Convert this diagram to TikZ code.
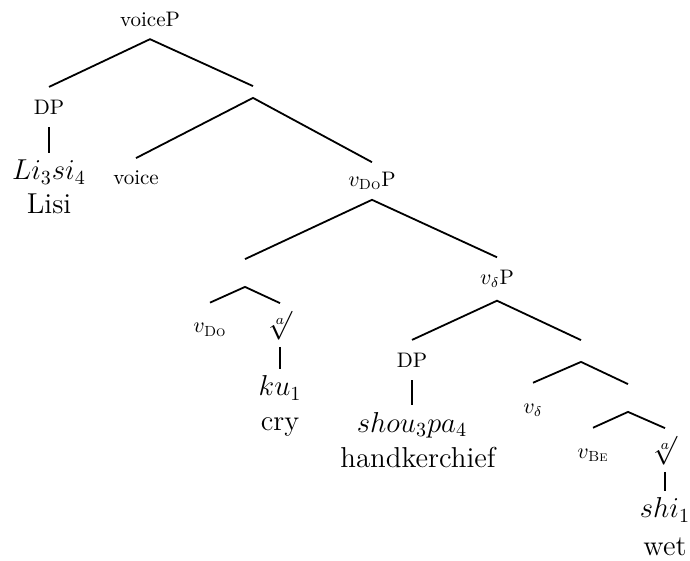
\documentclass[tikz,border=0pt]{standalone}
\usepackage{amsmath}
\usepackage{amssymb}

\begin{document}
\begin{tikzpicture}[x=0.5pt,y=-0.5pt,line width=0.9pt,node distance=16pt,
    cat/.style={font=\fontsize{10.5}{12}\selectfont,inner xsep=1pt,inner ysep=6pt},
    low/.style={cat,inner ysep=10pt},
    root/.style={font=\Large,inner xsep=1pt,inner ysep=3pt},
    word/.style={font=\Large,inner xsep=1pt,inner ysep=3pt},
    blank/.style={inner sep=0pt,minimum width=0pt,minimum height=#1}]
        \useasboundingbox (0,0) rectangle (690,561);

        \node[cat] (voiceP) at (150,19) {voiceP};
        \node[cat] (DPa) at (49,107) {DP};
        \node[word] (Li) at (49,172) {$Li_3si_4$};
        \node[word,below of=Li] (Lisi) {Lisi};

        \node[blank=5pt] (A) at (253,92) {};
        \node[cat] (voice) at (136,178) {voice};
        \node[cat,inner ysep=4.5pt] (vDoP) at (372,181) {$v_{\textsc{Do}}$P};

        \node[blank=13pt] (B) at (245,273) {};
        \node[low] (vDo) at (210,330) {$v_{\textsc{Do}}$};
        \node[root] (rta) at (280,325) {$\sqrt[a]{}$};
        \node[word] (ku) at (280,388) {$ku_1$};
        \node[word,below of=ku,node distance=19.5pt] (cry) {cry};

        \node[cat] (vdP) at (497,279) {$v_\delta$P};
        \node[cat] (DPb) at (412,360) {DP};
        \node[word] (shou) at (412,425) {$shou_3pa_4$};
        \node[word,below of=shou,node distance=16.5pt,xshift=3pt] (hk) {handkerchief};

        \node[blank=10pt] (C) at (581,351) {};
        \node[low] (vd) at (533,410) {$v_\delta$};
        \node[blank=13pt] (D) at (628,398) {};
        \node[low] (vBe) at (593,455) {$v_{\textsc{Be}}$};
        \node[root] (rtb) at (665,450) {$\sqrt[a]{}$};
        \node[word] (shi) at (665,510) {$shi_1$};
        \node[word,below of=shi,node distance=18.5pt] (wet) {wet};

        % branches
        \draw (DPa.north) -- (voiceP.south) -- (A.north);
        \draw (voice.north) -- (A.south) -- (vDoP.north);
        \draw (B.north) -- (vDoP.south) -- (vdP.north);
        \draw (vDo.north) -- (B.south) -- (rta.north);
        \draw (DPb.north) -- (vdP.south) -- (C.north);
        \draw (vd.north) -- (C.south) -- (D.north);
        \draw (vBe.north) -- (D.south) -- (rtb.north);

        % non-branching
        \draw (DPa.south) -- (DPa.south |- Li.north);
        \draw (rta.south) -- (rta.south |- ku.north);
        \draw (DPb.south) -- (DPb.south |- shou.north);
        \draw (rtb.south) -- (rtb.south |- shi.north);
    \end{tikzpicture}
\end{document}
